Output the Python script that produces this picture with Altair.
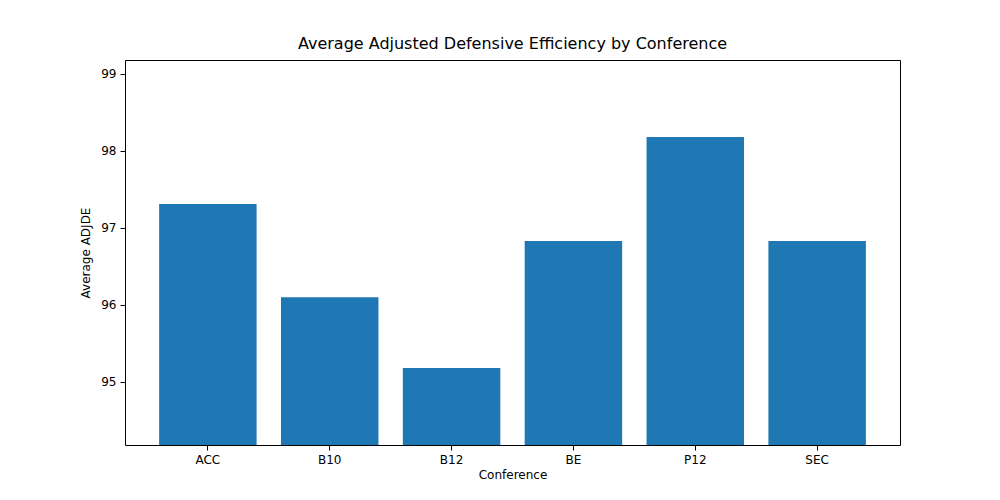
import pandas as pd
import altair as alt

# Conference averages
conferences = ["ACC", "B10", "B12", "BE", "P12", "SEC"]
avg_adjde = [97.31, 96.10, 95.18, 96.83, 98.18, 96.83]
y_ticks = [95, 96, 97, 98, 99]
y_min, y_max = 94.18, 99.18

df = pd.DataFrame({"Conference": conferences, "ADJDE": avg_adjde})

font = "DejaVu Sans"

chart = alt.Chart(df).mark_bar(color="#1f77b4", clip=True).encode(
    x=alt.X("Conference:N", sort=conferences,
            scale=alt.Scale(paddingInner=0.2, paddingOuter=0.28),
            axis=alt.Axis(title="Conference", labelAngle=0, labelFontSize=12,
                          titleFontSize=12, titleFontWeight="normal",
                          tickColor="black", domain=False, labelColor="black",
                          titleColor="black", labelFont=font, titleFont=font,
                          tickSize=5, labelPadding=4, titlePadding=4)),
    y=alt.Y("ADJDE:Q", scale=alt.Scale(domain=[y_min, y_max], zero=False, nice=False),
            axis=alt.Axis(title="Average ADJDE", values=y_ticks, grid=False,
                          labelFontSize=12, titleFontSize=12, titleFontWeight="normal",
                          tickColor="black", domain=False, labelColor="black",
                          titleColor="black", labelFont=font, titleFont=font,
                          tickSize=5, labelPadding=4, titlePadding=8)),
    y2=alt.datum(y_min),
).properties(
    width=775,
    height=385,
    title=alt.TitleParams("Average Adjusted Defensive Efficiency by Conference",
                          fontSize=16, fontWeight="normal", font=font,
                          color="black", offset=8),
    autosize="none",
    padding={"left": 117, "top": 52, "right": 84, "bottom": 47},
).configure_view(stroke="black", strokeWidth=1)

chart.save("out.html", embed_options={"renderer": "svg", "actions": False})
